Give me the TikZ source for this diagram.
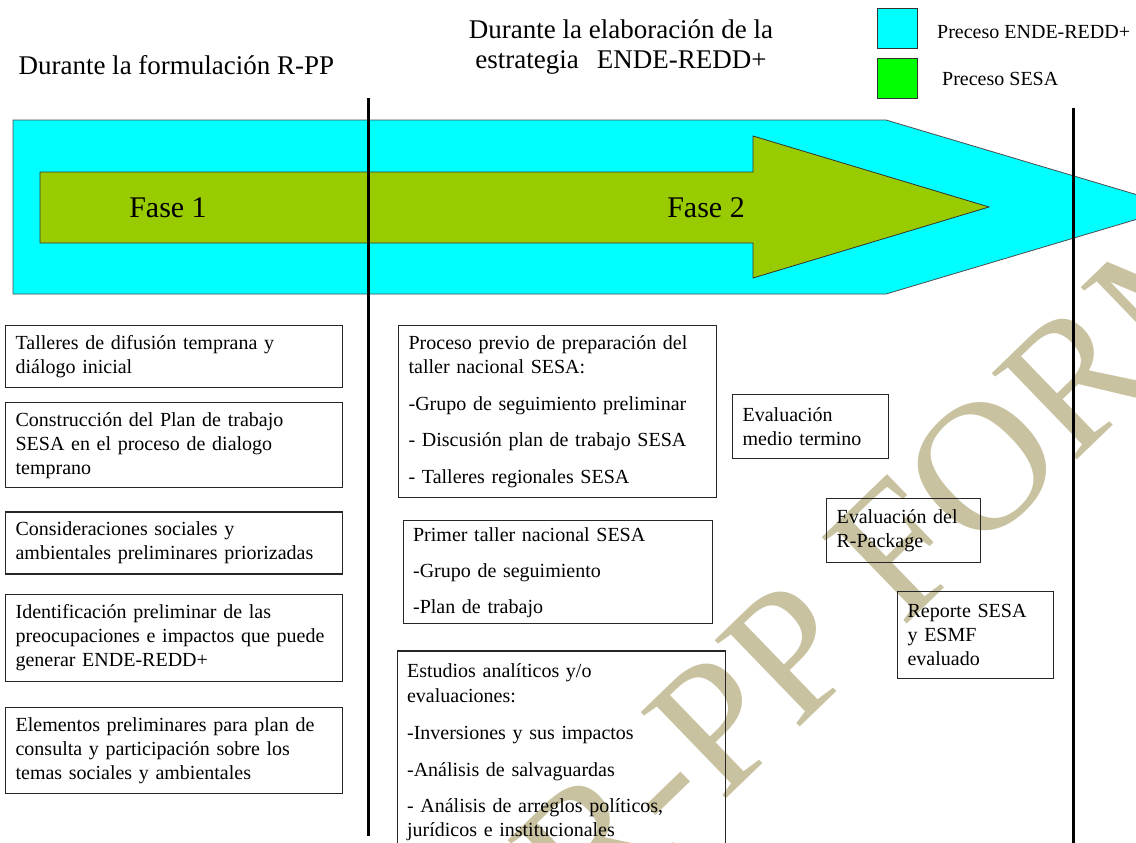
\documentclass[tikz,border=0pt]{standalone}
\usepackage{fontspec}
\setmainfont{Liberation Serif}
\usetikzlibrary{positioning}
\definecolor{endecyan}{RGB}{0,255,255}
\definecolor{sesagreen}{RGB}{0,255,0}
\definecolor{faseolive}{RGB}{153,204,0}
\definecolor{marca}{RGB}{201,194,160}

\begin{document}
\begin{tikzpicture}[x=1pt,y=-1pt,
    box/.style={draw=black!85, line width=1.2pt, align=left, anchor=north west,
      inner xsep=10pt, inner ysep=2pt, font=\fontsize{20}{24}\selectfont},
    title/.style={font=\fontsize{27}{30}\selectfont, align=center},
    fase/.style={font=\fontsize{30}{36}\selectfont},
    legsq/.style={draw=black!80, line width=1pt, minimum size=40pt, inner sep=0pt, anchor=north west},
    legtxt/.style={font=\fontsize{20}{24}\selectfont, inner sep=0pt},
    divider/.style={line width=3pt}]
  \useasboundingbox (0,0) rectangle (1136,843);
  \begin{scope}
    \clip (0,0) rectangle (1136,843);
    \node[anchor=base west, rotate=44, text=marca, inner sep=0pt,
      font=\fontsize{185}{185}\selectfont] (marca) at (588,932) {R-PP FORMAT};
    \draw[fill=endecyan, draw=black!70, line width=0.8pt]
      (13,120) -- (886,120) -- (1178,207) -- (886,294) -- (13,294) -- cycle;
    \draw[fill=faseolive, draw=black!80, line width=0.8pt]
      (40,172) -- (753,172) -- (753,136) -- (989,207) -- (753,278) -- (753,243) -- (40,243) -- cycle;
  \end{scope}
  \node[fase] (fase1) at (168,208) {Fase 1};
  \node[fase] (fase2) at (706,208) {Fase 2};

  \node[title, anchor=west] (formulacion) at (15,65) {Durante la formulación R-PP};
  \node[title] (elaboracion) at (621,47) {Durante la elaboración de la\\estrategia\hspace{18pt}ENDE-REDD+};

  \node[legsq, fill=endecyan] (legende) at (877,8) {};
  \node[legtxt, right=19pt of legende, yshift=-4pt] (legendetxt) {Preceso ENDE-REDD+};
  \node[legsq, fill=sesagreen] (legsesa) at (877,58) {};
  \node[legtxt, right=24pt of legsesa] (legsesatxt) {Preceso SESA};

  \node[box, text width=317pt, minimum height=62pt] (l1) at (5,325)
    {Talleres de difusión temprana y\\diálogo inicial};
  \node[box, text width=317pt, minimum height=85pt, below=14pt of l1] (l2)
    {Construcción del Plan de trabajo\\SESA en el proceso de dialogo\\temprano};
  \node[box, text width=317pt, minimum height=62pt, below=23pt of l2] (l3)
    {Consideraciones sociales y\\ambientales preliminares priorizadas};
  \node[box, text width=317pt, minimum height=87pt, below=19pt of l3] (l4)
    {Identificación preliminar de las\\preocupaciones e impactos que puede\\generar ENDE-REDD+};
  \node[box, text width=317pt, minimum height=86pt, below=25pt of l4] (l5)
    {Elementos preliminares para plan de\\consulta y participación sobre los\\temas sociales y ambientales};

  \node[box, text width=298pt, minimum height=172pt] (m1) at (398,325)
    {Proceso previo de preparación del\\taller nacional SESA:\\[13pt]-Grupo de seguimiento preliminar\\[12pt]- Discusión plan de trabajo SESA\\[13pt]- Talleres regionales SESA};
  \node[box, text width=289pt, minimum height=103pt, below=22pt of m1] (m2)
    {Primer taller nacional SESA\\[12pt]-Grupo de seguimiento\\[12pt]-Plan de trabajo};
  \node[box, text width=308pt, minimum height=202pt, below=26pt of m2, xshift=3.5pt] (m3)
    {Estudios analíticos y/o\\[1pt]evaluaciones:\\[13pt]-Inversiones y sus impactos\\[13pt]-Análisis de salvaguardas\\[12pt]- Análisis de arreglos políticos,\\jurídicos e institucionales};

  \node[box, text width=136pt, minimum height=64pt] (r1) at (732,394) {Evaluación\\medio termino};
  \node[box, text width=134pt, minimum height=64pt] (r2) at (826,498) {Evaluación del\\R-Package};
  \node[box, text width=136pt, minimum height=87pt] (r3) at (897,591) {Reporte SESA\\y ESMF\\evaluado};

  \draw[divider] (368,98) -- (368,836);
  \draw[divider] (1073,108) -- (1073,845);
\end{tikzpicture}
\end{document}
